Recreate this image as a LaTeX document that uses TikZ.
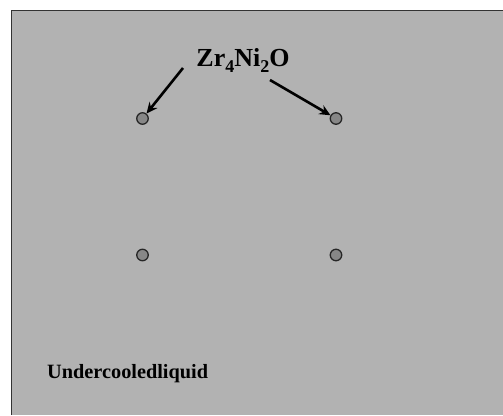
\documentclass[tikz,border=0pt]{standalone}
\usepackage{fontspec}
\setmainfont{Liberation Serif}
\usetikzlibrary{arrows.meta}
\newcommand{\sub}[1]{{\fontsize{18}{18}\selectfont\raisebox{-6.5pt}{#1}}}
\tikzset{
  site/.style={circle, draw=black!85, line width=1.3pt, fill=black!47, minimum size=11.5pt, inner sep=0pt},
  pointer/.style={line width=2.6pt, -{Stealth[length=11pt, width=10pt]}},
  lbl/.style={inner sep=0pt, font=\bfseries}
}
\begin{document}
\begin{tikzpicture}[x=1pt, y=-1pt]
  \useasboundingbox (0,0) rectangle (503,415);
  % background region
  \fill[white] (0,0) rectangle (503,415);
  \fill[black!30] (11,10) rectangle (503,415);
  \draw[black!80, line width=1.6pt] (11.5,415) -- (11.5,10.5) -- (503,10.5);
  % lattice sites
  \node[site] (s1) at (142.5,118.5) {};
  \node[site] (s2) at (336,118.5) {};
  \node[site] (s3) at (142.5,255) {};
  \node[site] (s4) at (336,255) {};
  % labels
  \node[lbl, anchor=base, font=\bfseries\fontsize{26}{26}\selectfont] (phase) at (243,66) {Zr\sub{4}Ni\sub{2}O};
  \node[lbl, anchor=base west, font=\bfseries\fontsize{20.3}{20.3}\selectfont] (liq) at (47,378) {Undercooledliquid};
  % pointers
  \coordinate (a1) at (183,68);
  \coordinate (a2) at (270,80);
  \draw[pointer] (a1) -- (s1);
  \draw[pointer] (a2) -- (s2);
\end{tikzpicture}
\end{document}
